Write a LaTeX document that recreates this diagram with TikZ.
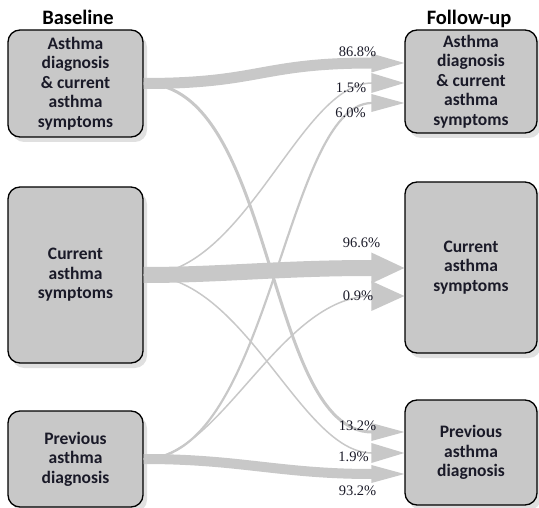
\documentclass[tikz,border=0pt]{standalone}
\usepackage{fontspec}
\setmainfont{Liberation Serif}
\newfontfamily\boxfont{Carlito}
\usetikzlibrary{arrows.meta,calc,positioning,shadows}

\definecolor{flowgray}{RGB}{200,200,200}
\definecolor{boxgray}{RGB}{200,200,200}
\definecolor{inkblue}{RGB}{26,26,40}

\tikzset{
  statebox/.style={draw=black, line width=1.3pt, fill=boxgray, rounded corners=12pt,
    minimum width=135pt, align=center, text=inkblue, inner sep=0pt,
    font=\boxfont\bfseries\fontsize{17.5}{19.5}\selectfont,
    drop shadow={shadow xshift=4pt, shadow yshift=-5pt, fill=black!12, opacity=1}},
  ttl/.style={font=\boxfont\bfseries\fontsize{20.5}{24}\selectfont, text=black, anchor=base},
  pct/.style={font=\fontsize{14.5}{16}\selectfont, text=inkblue, inner sep=0pt, anchor=base},
  flow/.style 2 args={draw=flowgray, line width=#1, line cap=butt,
    -{Triangle[length=33pt, width=#2, line width=0pt]}},
}

\begin{document}
\begin{tikzpicture}[x=1pt,y=-1pt]
 \useasboundingbox (0,0) rectangle (539,508);
 % titles
 \node[ttl] (tbase) at (78,25) {Baseline};
 \node[ttl] (tfollow) at (469,25) {Follow-up};
 % baseline states
 \node[statebox, minimum height=107pt] (lb1) at (75.5,83.5) {Asthma\\diagnosis\\\& current\\asthma\\symptoms};
 \node[statebox, minimum height=176pt] (lb2) at (75.5,275) {Current\\asthma\\symptoms};
 \node[statebox, minimum height=96pt] (lb3) at (75.5,459) {Previous\\asthma\\diagnosis};
 % follow-up states
 \node[statebox, minimum width=132pt, minimum height=103pt] (rb1) at (471,81.5) {Asthma\\diagnosis\\\& current\\asthma\\symptoms};
 \node[statebox, minimum width=132pt, minimum height=171pt] (rb2) at (471,267.5) {Current\\asthma\\symptoms};
 \node[statebox, minimum width=132pt, minimum height=105pt] (rb3) at (471,452.5) {Previous\\asthma\\diagnosis};
 % transitions
 \foreach \s/\t/\yb/\ca/\cb/\w/\hw in {lb1/rb1/63/117/112/11/19,
                                      lb1/rb3/432/132/107/3/18,
                                      lb2/rb1/83/102/72/1.5/20,
                                      lb2/rb2/268/77/92/16/31,
                                      lb2/rb3/453/102/72/1.5/20,
                                      lb3/rb1/103/127/87/2.2/18,
                                      lb3/rb2/296/77/92/1.5/30,
                                      lb3/rb3/474/97/92/10/18}{
   \draw[flow={\w pt}{\hw pt}] (\s.east) .. controls +(\ca,0) and +(-\cb,0) .. (372,\yb) -- (\t.west |- 0,\yb);}
 % percentages
 \foreach \nm/\x/\y/\val in {p1/357.5/57/86.8, p2/351/93/1.5, p3/350.5/118/6.0,
                             p4/361.5/248/96.6, p5/358/301/0.9,
                             p6/357.5/430/13.2, p7/353.5/461/1.9, p8/357.5/495/93.2}
   \node[pct] (\nm) at (\x,\y) {\val\%};
\end{tikzpicture}
\end{document}
